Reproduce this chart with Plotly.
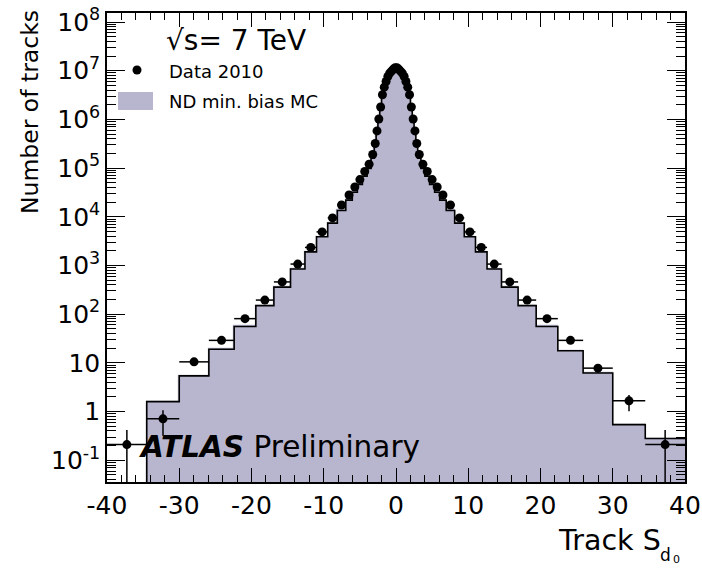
import plotly.graph_objects as go

# ---------------- data ----------------
# positive half of the (symmetric) variable bin edges in S_d0
edges_pos = [0, 0.25, 0.5, 0.75, 1.0, 1.25, 1.5, 1.75, 2.0, 2.25, 2.5, 2.75, 3.0,
             3.45, 4.0, 4.65, 5.35, 6.05, 6.95, 8.12, 9.45, 11.0, 12.6, 14.6,
             16.9, 19.4, 22.4, 25.9, 30.0, 34.5, 40.0]

# Data 2010, bins from -40 -> 0 and 0 -> +40
data_neg = [0.21, 0.71, 10.5, 29, 81, 195, 460, 1070, 2350, 4900,
            9500, 17500, 28000, 41000, 58000, 85000, 1.2e5, 1.9e5, 3.2e5, 5.8e5,
            1.02e6, 1.8e6, 3.2e6, 4.6e6, 6.0e6, 7.6e6, 8.9e6, 9.8e6, 1.07e7, 1.15e7]
data_pos = [1.15e7, 1.07e7, 9.8e6, 8.9e6, 7.6e6, 6.0e6, 4.6e6, 3.2e6, 1.8e6, 1.02e6,
            5.8e5, 3.2e5, 1.9e5, 1.2e5, 85000, 58000, 41000, 28000, 17500, 9500,
            4900, 2350, 1070, 460, 195, 81, 29, 7.8, 1.66, 0.21]
# asymmetric vertical errors (only visible in the tails)
err_up_neg = [0.21, 0.36, 1.5] + [0] * 27
err_dn_neg = [0.2099, 0.39, 1.5] + [0] * 27
err_up_pos = [0] * 27 + [1.4, 0.53, 0.21]
err_dn_pos = [0] * 27 + [1.4, 0.64, 0.2099]

# ND min. bias MC
mc_neg = [0, 1.6, 5.4, 19, 56, 150, 360, 850, 1900, 3900,
          7400, 13500, 22000, 32000, 46000, 68000, 98000, 1.6e5, 2.8e5, 5.0e5,
          9.0e5, 1.6e6, 2.8e6, 4.2e6, 5.6e6, 7.2e6, 8.5e6, 9.5e6, 1.05e7, 1.12e7]
mc_pos = [1.12e7, 1.05e7, 9.5e6, 8.5e6, 7.2e6, 5.6e6, 4.2e6, 2.8e6, 1.6e6, 9.0e5,
          5.0e5, 2.8e5, 1.6e5, 98000, 68000, 46000, 32000, 22000, 13500, 7400,
          3900, 1900, 850, 360, 150, 56, 17.8, 6.2, 0.54, 0.28]

x_ticks = [-40, -30, -20, -10, 0, 10, 20, 30, 40]
x_ticktext = ["-40", "-30", "-20", "-10", "0", "10", "20", "30", "40"]
y_ticks = [1e-1, 1, 10, 1e2, 1e3, 1e4, 1e5, 1e6, 1e7, 1e8]
y_ticktext = ["10<sup>-1</sup>", "1", "10", "10<sup>2</sup>", "10<sup>3</sup>",
              "10<sup>4</sup>", "10<sup>5</sup>", "10<sup>6</sup>", "10<sup>7</sup>",
              "10<sup>8</sup>"]
y_log_range = [-1.446, 8.185]

# ---------------- derived ----------------
edges = [-e for e in reversed(edges_pos[1:])] + edges_pos
centers = [(a + b) / 2 for a, b in zip(edges[:-1], edges[1:])]
widths = [b - a for a, b in zip(edges[:-1], edges[1:])]
data = data_neg + data_pos
mc = mc_neg + mc_pos
err_up = err_up_neg + err_up_pos
err_dn = err_dn_neg + err_dn_pos

FONT = "DejaVu Sans"
MC_COLOR = "rgb(184,182,207)"

floor = 10 ** (y_log_range[0] - 1)
step_x = edges
step_y = [v if v > 0 else floor for v in mc] + [mc[-1]]

fig = go.Figure()
fig.add_trace(go.Bar(x=centers, y=mc, width=widths, marker=dict(color=MC_COLOR,
                     line=dict(color=MC_COLOR, width=1.2)), showlegend=False))
fig.add_trace(go.Scatter(x=step_x, y=step_y, mode="lines", line_shape="hv",
                         line=dict(color="black", width=1.6), showlegend=False))
fig.add_trace(go.Scatter(
    x=centers, y=data, mode="markers",
    marker=dict(color="black", size=9),
    error_x=dict(type="data", array=[w / 2 for w in widths], color="black",
                 thickness=1.5, width=0),
    error_y=dict(type="data", symmetric=False, array=err_up, arrayminus=err_dn,
                 color="black", thickness=1.5, width=0),
    showlegend=False))

W, H = 702, 568
ml, mr, mt, mb = 107, 17, 13, 86
pw, ph = W - ml - mr, H - mt - mb


def px(x):
    return (x - ml) / pw


def py(y):
    return 1 - (y - mt) / ph


fig.update_layout(
    width=W, height=H, margin=dict(l=ml, r=mr, t=mt, b=mb, autoexpand=False),
    paper_bgcolor="white", plot_bgcolor="white", bargap=0,
    font=dict(family=FONT, color="black"),
    showlegend=False,
    xaxis=dict(range=[-40, 40], tickmode="array", tickvals=x_ticks, ticktext=x_ticktext,
               ticks="inside", ticklen=14, tickwidth=1.2, tickcolor="black",
               minor=dict(dtick=2, ticks="inside", ticklen=7, tickcolor="black", tickwidth=1),
               showline=True, linecolor="black", linewidth=1.5, mirror="allticks",
               showgrid=False, zeroline=False, tickfont=dict(size=25, family=FONT),
               ticklabelstandoff=0, automargin=False),
    yaxis=dict(type="log", range=y_log_range, tickmode="array", tickvals=y_ticks,
               ticktext=y_ticktext, ticks="inside", ticklen=18, tickwidth=1.2,
               tickcolor="black",
               minor=dict(dtick="D1", ticks="inside", ticklen=9, tickcolor="black", tickwidth=1),
               showline=True, linecolor="black", linewidth=1.5, mirror="allticks",
               showgrid=False, zeroline=False, tickfont=dict(size=25, family=FONT),
               ticklabelstandoff=0, automargin=False),
)

ann = [
    dict(text="Number of tracks", x=px(30), y=py(112), textangle=-90,
         font=dict(size=23.5)),
    dict(text="Track S", x=px(663), y=py(540), xanchor="right", font=dict(size=28.5)),
    dict(text="d", x=px(665), y=py(555), xanchor="center", font=dict(size=17)),
    dict(text="0", x=px(676), y=py(559), xanchor="center", font=dict(size=11)),
    dict(text="√s= 7 TeV", x=px(164), y=py(41), xanchor="left", font=dict(size=28)),
    dict(text="Data 2010", x=px(167), y=py(71), xanchor="left", font=dict(size=18)),
    dict(text="ND min. bias MC", x=px(167), y=py(101), xanchor="left", font=dict(size=18)),
    dict(text="<b><i>ATLAS</i></b> Preliminary", x=px(137), y=py(447), xanchor="left",
         font=dict(size=29.5)),
]
for a in ann:
    a.update(xref="paper", yref="paper", showarrow=False, yanchor="middle")
    a.setdefault("xanchor", "center")
fig.update_layout(annotations=ann)

fig.add_shape(type="circle", xref="paper", yref="paper",
              x0=px(132.5), x1=px(141.5), y0=py(74.5), y1=py(65.5),
              fillcolor="black", line=dict(color="black", width=0))
fig.add_shape(type="rect", xref="paper", yref="paper",
              x0=px(118), x1=px(153), y0=py(110), y1=py(92),
              fillcolor=MC_COLOR, line=dict(width=0))

fig.write_html("out.html")
